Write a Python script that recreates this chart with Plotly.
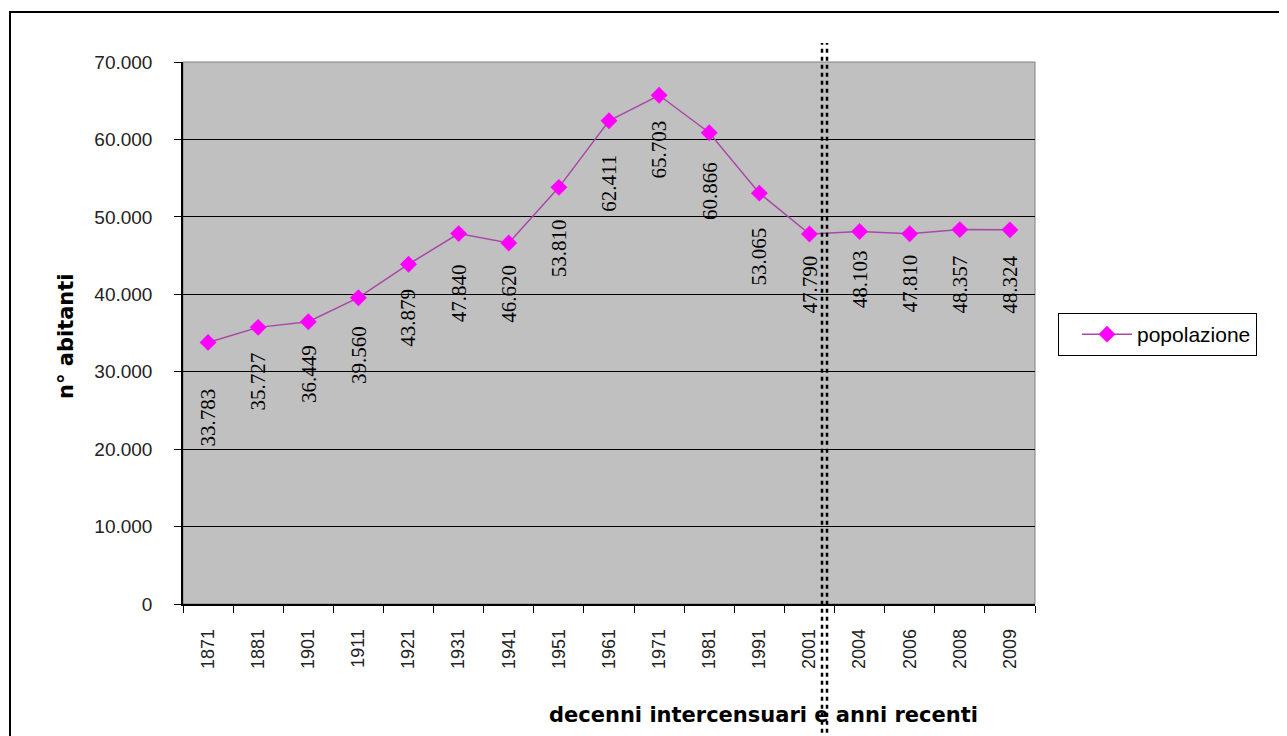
import plotly.graph_objects as go

years = ["1871", "1881", "1901", "1911", "1921", "1931", "1941", "1951", "1961",
         "1971", "1981", "1991", "2001", "2004", "2006", "2008", "2009"]
popolazione = [33783, 35727, 36449, 39560, 43879, 47840, 46620, 53810, 62411,
               65703, 60866, 53065, 47790, 48103, 47810, 48357, 48324]
y_ticks = [0, 10000, 20000, 30000, 40000, 50000, 60000, 70000]

# label offsets below each point (px, style only)
label_dy = [75, 54, 52, 57, 54, 60, 51, 61, 63, 54, 58, 63, 50, 48, 50, 55, 55]

# page has an 8px body margin; compensate
OX, OY = 8, 8
PL, PT, PW, PH = 183 - OX, 62 - OY, 852, 542
W, H = 1287 - OX, 736 - OY

SANS = "Liberation Sans, Arial, sans-serif"
WIDE = "DejaVu Sans, Verdana, sans-serif"
SERIF = "Liberation Serif, Times New Roman, serif"


def fmt(v):
    return f"{v:,}".replace(",", ".")


def px_x(x):  # absolute screen x -> paper
    return (x - 183) / PW


def px_y(y):  # absolute screen y -> paper
    return (604 - y) / PH


fig = go.Figure()
fig.add_trace(go.Scatter(
    x=years, y=popolazione, mode="lines+markers", name="popolazione",
    line=dict(color="#A848A8", width=1.5),
    marker=dict(symbol="diamond", size=13, color="#FF00FF",
                line=dict(width=0)),
))

annotations = []
for i, (v, dy) in enumerate(zip(popolazione, label_dy)):
    annotations.append(dict(
        x=i, y=v, xref="x", yref="y", text=fmt(v), showarrow=False,
        textangle=-90, xanchor="center", yanchor="middle", yshift=-dy,
        font=dict(family=SERIF, size=21, color="#000000"),
    ))

annotations.append(dict(
    x=px_x(66), y=px_y(336), xref="paper", yref="paper",
    text="<b>n° abitanti</b>", showarrow=False, textangle=-90,
    xanchor="center", yanchor="middle",
    font=dict(family=WIDE, size=21, color="#000000"),
))
annotations.append(dict(
    x=px_x(763), y=px_y(715), xref="paper", yref="paper",
    text="<b>decenni intercensuari e anni recenti</b>", showarrow=False,
    xanchor="center", yanchor="middle",
    font=dict(family=WIDE, size=21, color="#000000"),
))

shapes = [
    dict(type="rect", xref="paper", yref="paper",
         x0=px_x(10), x1=1.6, y0=-0.6, y1=px_y(12),
         line=dict(color="#000000", width=2), fillcolor="rgba(0,0,0,0)", layer="below"),
    dict(type="rect", xref="paper", yref="paper", x0=0, x1=1, y0=0, y1=1,
         line=dict(color="#808080", width=1), fillcolor="rgba(0,0,0,0)", layer="below"),
]
for dx in (-2.5, 2.5):
    shapes.append(dict(
        type="line", xref="x", yref="paper",
        x0=12.3 + dx / 50.1, x1=12.3 + dx / 50.1,
        y0=-0.4, y1=px_y(43),
        line=dict(color="#000000", width=2.5, dash="4px,4px"),
    ))

fig.update_layout(
    width=W, height=H,
    margin=dict(l=PL, r=W - PL - PW, t=PT, b=H - PT - PH),
    paper_bgcolor="#FFFFFF", plot_bgcolor="#C0C0C0",
    separators=",.",
    showlegend=True,
    legend=dict(x=px_x(1058), y=px_y(313), xanchor="left", yanchor="top",
                bordercolor="#000000", borderwidth=1, bgcolor="#FFFFFF",
                itemwidth=50, indentation=18,
                font=dict(family=SANS, size=21, color="#000000")),
    annotations=annotations,
    shapes=shapes,
)
fig.update_xaxes(
    type="category", range=[-0.5, 16.5], tickangle=-90, tickson="boundaries",
    ticks="outside", ticklen=7, tickcolor="#000000", showgrid=False,
    showline=True, linecolor="#000000", linewidth=1.5,
    ticklabelstandoff=16,
    tickfont=dict(family=SANS, size=18, color="#222222"),
)
fig.update_yaxes(
    range=[0, 70000], tickvals=y_ticks, tickformat=",d",
    ticks="outside", ticklen=7, tickcolor="#000000",
    showgrid=True, gridcolor="#000000", gridwidth=1,
    showline=True, linecolor="#000000", linewidth=1.5, zeroline=False,
    ticklabelstandoff=18,
    tickfont=dict(family=SANS, size=19, color="#222222"),
)

fig.write_html("out.html")
